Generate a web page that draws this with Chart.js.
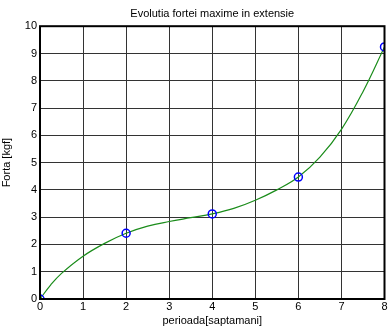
<!DOCTYPE html>
<html>
<head>
<meta charset="utf-8">
<script src="https://cdn.jsdelivr.net/npm/chart.js@4/dist/chart.umd.min.js"></script>
<style>
html,body{margin:0;padding:0;background:#fff;}
#wrap{width:390px;height:328px;}
</style>
</head>
<body>
<div id="wrap"><canvas id="c" width="390" height="328"></canvas></div>
<script>
// masuratori (puncte) si curba interpolata
const saptamani = [0, 2, 4, 6, 8];
const forta = [0, 2.41, 3.12, 4.47, 9.24];
const curbaX = [0, 0.25, 0.5, 1, 1.5, 2, 2.5, 3, 3.5, 4, 4.5, 5, 5.5, 6, 6.5, 7, 7.5, 8];
const curbaY = [0, 0.52, 0.94, 1.57, 2.04, 2.41, 2.67, 2.84, 2.98, 3.12, 3.32, 3.62, 4.0, 4.47, 5.2, 6.22, 7.6, 9.24];
const xTicks = [0, 1, 2, 3, 4, 5, 6, 7, 8];
const yTicks = [0, 1, 2, 3, 4, 5, 6, 7, 8, 9, 10];

const font = {family: "'Liberation Sans', Arial, sans-serif", size: 11};

// rama neagra in jurul zonei de desen
const rama = {
  id: "rama",
  afterDraw(chart){
    const a = chart.chartArea, c = chart.ctx;
    c.save();
    c.strokeStyle = "#000";
    c.lineWidth = 2;
    c.strokeRect(a.left, a.top, a.right - a.left, a.bottom - a.top);
    c.restore();
  }
};

new Chart(document.getElementById("c"), {
  type: "scatter",
  data: {
    datasets: [
      {
        data: curbaX.map((x, i) => ({x: x, y: curbaY[i]})),
        showLine: true, borderColor: "#1a8c1a", borderWidth: 1.2,
        pointRadius: 0, tension: 0.4, order: 2
      },
      {
        data: saptamani.map((x, i) => ({x: x, y: forta[i]})),
        showLine: false, borderColor: "#0000ff", backgroundColor: "rgba(0,0,0,0)",
        pointRadius: 4, borderWidth: 1.5, order: 1
      }
    ]
  },
  options: {
    responsive: false, animation: false,
    layout: {padding: {right: 3, left: 0, top: 0, bottom: 0}},
    plugins: {
      legend: {display: false},
      tooltip: {enabled: false},
      title: {
        display: true, text: "Evolutia fortei maxime in extensie",
        color: "#000", font: {family: font.family, size: 11, weight: "normal"},
        padding: {top: 7, bottom: 6}, fullSize: false
      }
    },
    scales: {
      x: {
        type: "linear", min: 0, max: 8,
        afterBuildTicks(s){ s.ticks = xTicks.map(v => ({value: v})); },
        afterFit(s){ s.height = 29; s.paddingLeft = 0; s.paddingRight = 0; },
        ticks: {color: "#000", font: font, padding: 1, maxRotation: 0},
        grid: {color: "#333", borderDash: [1, 1], lineWidth: 1, drawTicks: false},
        border: {display: false},
        title: {display: true, text: "perioada[saptamani]", color: "#000", font: font, padding: {top: 0, bottom: 0}}
      },
      y: {
        type: "linear", min: 0, max: 10,
        afterBuildTicks(s){ s.ticks = yTicks.map(v => ({value: v})); },
        afterFit(s){ s.width = 40; },
        ticks: {color: "#000", font: font, padding: 3},
        grid: {color: "#333", borderDash: [1, 1], lineWidth: 1, drawTicks: false},
        border: {display: false},
        title: {display: true, text: "Forta [kgf]", color: "#000", font: font, padding: {top: 0, bottom: 4}}
      }
    }
  },
  plugins: [rama]
});
</script>
</body>
</html>
